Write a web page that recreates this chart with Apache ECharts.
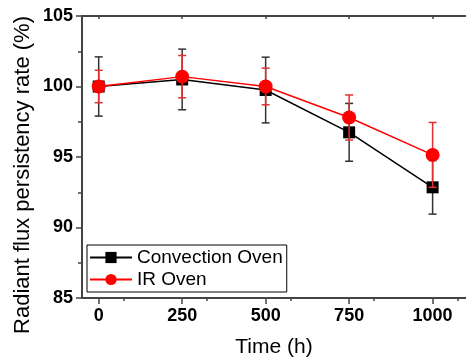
<!DOCTYPE html>
<html>
<head>
<meta charset="utf-8">
<script src="https://cdn.jsdelivr.net/npm/echarts@6/dist/echarts.min.js"></script>
<style>
  html, body { margin: 0; padding: 0; background: #fff; }
  #chart { width: 466px; height: 363px; }
</style>
</head>
<body>
<div id="chart"></div>
<script>
var times = [0, 250, 500, 750, 1000];
var convValues = [100, 100.5, 99.75, 96.75, 92.85];
var convErrors = [2.1, 2.15, 2.33, 2.05, 1.9];
var irValues = [100, 100.7, 100.0, 97.8, 95.15];
var irErrors = [1.15, 1.5, 1.3, 1.6, 2.3];

function fncRows(vals, errs) {
    var rows = [];
    for (var i in times) rows.push([times[i], vals[i], errs[i]]);
    return rows;
}

function fncErrorBar(color) {
    return function (params, api) {
        var x = api.value(0), y = api.value(1), e = api.value(2);
        var top = api.coord([x, y + e]);
        var bot = api.coord([x, y - e]);
        var style = { stroke: color, lineWidth: 1.5 };
        return {
            type: 'group',
            children: [
                { type: 'line', shape: { x1: top[0], y1: top[1], x2: bot[0], y2: bot[1] }, style: style },
                { type: 'line', shape: { x1: top[0] - 4, y1: top[1], x2: top[0] + 4, y2: top[1] }, style: style },
                { type: 'line', shape: { x1: bot[0] - 4, y1: bot[1], x2: bot[0] + 4, y2: bot[1] }, style: style }
            ]
        };
    };
}

var axisColor = '#444';
var chart = echarts.init(document.getElementById('chart'));
var option = {
    animation: false,
    textStyle: { fontFamily: 'Arial, "Liberation Sans", sans-serif' },
    grid: { left: 82, top: 16, width: 387, height: 283 },
    legend: {
        left: 87, top: 245,
        orient: 'vertical',
        padding: [3, 4, 3, 2],
        itemGap: 3,
        itemWidth: 42, itemHeight: 14,
        borderColor: '#000', borderWidth: 1,
        textStyle: { fontSize: 19, color: '#000' },
        data: ['Convection Oven', 'IR Oven']
    },
    xAxis: [{
        type: 'value', min: -50, max: 1100, interval: 250,
        position: 'bottom',
        name: 'Time (h)', nameLocation: 'middle', nameGap: 39,
        nameTextStyle: { fontSize: 21, color: '#000' },
        axisLine: { show: true, onZero: false, lineStyle: { color: axisColor, width: 2 } },
        axisTick: { show: true, length: 6, lineStyle: { color: axisColor, width: 1.5 }, customValues: times },
        minorTick: { show: true, splitNumber: 2, length: 3, lineStyle: { color: axisColor, width: 1.5 } },
        axisLabel: { fontSize: 18, fontWeight: 'bold', color: '#000', margin: 9, customValues: times,
            formatter: function (v) { return String(v); } },
        splitLine: { show: false }
    }, {
        type: 'value', min: -50, max: 1100, interval: 250,
        position: 'top',
        axisLine: { show: true, onZero: false, lineStyle: { color: axisColor, width: 2 } },
        axisTick: { show: true, inside: true, length: 3, lineStyle: { color: axisColor, width: 1.5 }, customValues: times },
        minorTick: { show: false },
        axisLabel: { show: false },
        splitLine: { show: false }
    }],
    yAxis: {
        type: 'value', min: 85, max: 105, interval: 5,
        axisLine: { show: true, onZero: false, lineStyle: { color: axisColor, width: 2 } },
        axisTick: { show: true, length: 6, lineStyle: { color: axisColor, width: 1.5 } },
        minorTick: { show: true, splitNumber: 2, length: 4, lineStyle: { color: axisColor, width: 1.5 } },
        axisLabel: { fontSize: 18, fontWeight: 'bold', color: '#000', margin: 9 },
        splitLine: { show: false }
    },
    graphic: [{
        type: 'text',
        x: 23, y: 175,
        rotation: Math.PI / 2,
        style: {
            text: 'Radiant flux persistency rate (%)',
            fontSize: 22, fill: '#000',
            fontFamily: 'Arial, "Liberation Sans", sans-serif',
            align: 'center', verticalAlign: 'middle'
        }
    }],
    series: [{
        type: 'custom', name: 'convErr',
        renderItem: fncErrorBar('#333'),
        data: fncRows(convValues, convErrors),
        z: 2
    }, {
        type: 'line', name: 'Convection Oven',
        data: fncRows(convValues, convErrors),
        symbol: 'rect', symbolSize: 12,
        itemStyle: { color: '#000' },
        lineStyle: { color: '#000', width: 1.5 },
        z: 3
    }, {
        type: 'custom', name: 'irErr',
        renderItem: fncErrorBar('#e43030'),
        data: fncRows(irValues, irErrors),
        z: 4
    }, {
        type: 'line', name: 'IR Oven',
        data: fncRows(irValues, irErrors),
        symbol: 'circle', symbolSize: 14,
        itemStyle: { color: '#ff0000' },
        lineStyle: { color: '#ff0000', width: 1.5 },
        z: 5
    }]
};
chart.setOption(option);
</script>
</body>
</html>
